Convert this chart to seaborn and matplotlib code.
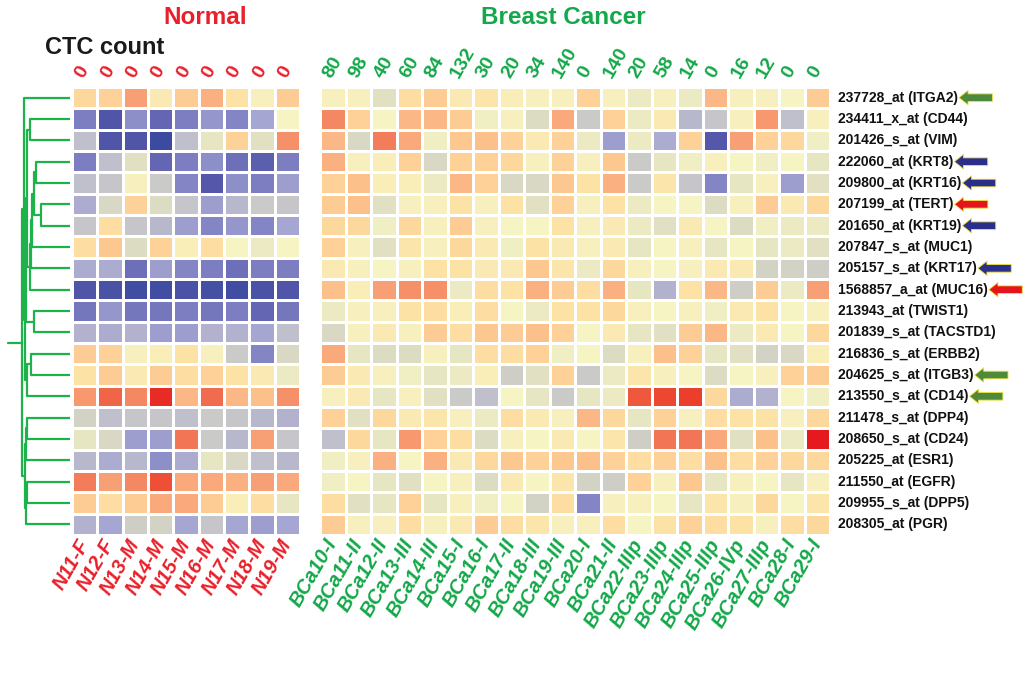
import matplotlib
matplotlib.use("Agg")
import matplotlib.pyplot as plt
import seaborn as sns
import pandas as pd
from matplotlib.colors import LinearSegmentedColormap

genes = [
    "237728_at (ITGA2)", "234411_x_at (CD44)", "201426_s_at (VIM)", "222060_at (KRT8)",
    "209800_at (KRT16)", "207199_at (TERT)", "201650_at (KRT19)", "207847_s_at (MUC1)",
    "205157_s_at (KRT17)", "1568857_a_at (MUC16)", "213943_at (TWIST1)", "201839_s_at (TACSTD1)",
    "216836_s_at (ERBB2)", "204625_s_at (ITGB3)", "213550_s_at (CD14)", "211478_s_at (DPP4)",
    "208650_s_at (CD24)", "205225_at (ESR1)", "211550_at (EGFR)", "209955_s_at (DPP5)",
    "208305_at (PGR)",
]
arrow_colors = [
    "#4f8a3c", None, None, "#2a2f8c", "#2a2f8c", "#e3151b", "#2a2f8c", None, "#2a2f8c",
    "#e3151b", None, None, None, "#4f8a3c", "#4f8a3c", None, None, None, None, None, None,
]

normal_samples = ["N11-F", "N12-F", "N13-M", "N14-M", "N15-M", "N16-M", "N17-M", "N18-M", "N19-M"]
cancer_samples = [
    "BCa10-I", "BCa11-II", "BCa12-II", "BCa13-III", "BCa14-III", "BCa15-I", "BCa16-I",
    "BCa17-II", "BCa18-III", "BCa19-III", "BCa20-I", "BCa21-II", "BCa22-IIIp", "BCa23-IIIp",
    "BCa24-IIIp", "BCa25-IIIp", "BCa26-IVp", "BCa27-IIIp", "BCa28-I", "BCa29-I",
]
normal_ctc = [0, 0, 0, 0, 0, 0, 0, 0, 0]
cancer_ctc = [80, 98, 40, 60, 84, 132, 30, 20, 34, 140, 0, 140, 20, 58, 14, 0, 16, 12, 0, 0]

# log-ratio style expression values, rows follow genes
normal_expr = [
    [0.7, 0.8, 1.5, 0.3, 0.9, 1.3, 0.5, 0.1, 0.9],
    [-2.0, -2.6, -1.8, -2.3, -2.0, -1.7, -1.9, -1.5, 0.0],
    [-1.1, -2.6, -2.6, -3.0, -1.1, -0.3, 0.8, -0.4, 1.7],
    [-2.0, -1.1, -0.4, -2.3, -2.0, -1.8, -2.2, -2.4, -2.0],
    [-1.1, -1.0, 0.1, -0.9, -1.9, -2.5, -1.8, -2.0, -1.6],
    [-1.4, -0.6, 0.8, -0.5, -1.0, -1.6, -1.2, -0.9, -1.0],
    [-1.0, 0.6, -1.0, -1.2, -1.6, -1.9, -1.7, -1.9, -1.5],
    [0.6, 1.0, -0.5, 0.8, 0.2, 0.6, 0.0, -0.2, 0.0],
    [-1.4, -1.4, -2.2, -1.6, -1.9, -2.0, -2.2, -2.0, -2.0],
    [-2.6, -2.7, -2.9, -2.9, -2.7, -2.8, -2.9, -2.7, -2.6],
    [-2.1, -1.7, -2.1, -2.1, -2.0, -2.1, -2.0, -2.3, -2.1],
    [-1.3, -1.4, -1.3, -1.6, -1.6, -1.3, -1.3, -1.5, -1.1],
    [0.9, 0.8, 0.1, 0.2, 0.5, 0.1, -0.9, -1.9, -0.6],
    [0.5, 0.9, 0.3, 0.9, 0.6, 0.8, 0.5, 0.3, -0.2],
    [1.6, 2.2, 1.8, 2.8, 1.2, 2.1, 1.2, 1.1, 1.7],
    [-0.7, -1.1, -1.0, -1.0, -1.1, -0.9, -1.0, -1.2, -1.3],
    [-0.3, -0.6, -1.6, -1.6, 2.0, -0.9, -1.2, 1.5, -1.0],
    [-1.2, -1.4, -1.2, -1.8, -1.4, -0.3, -0.6, -1.1, -1.2],
    [1.9, 1.5, 1.8, 2.4, 1.4, 1.4, 1.3, 1.5, 1.4],
    [0.9, 0.6, 0.9, 1.4, 1.4, 0.9, 0.2, 0.6, -0.3],
    [-1.3, -1.5, -0.8, -0.7, -1.5, -1.0, -1.5, -1.6, -1.5],
]
cancer_expr = [
    [0.1, 0.1, -0.4, 0.6, 0.9, 0.3, 0.4, 0.2, 0.1, 0.1, 0.8, 0.1, -0.2, 0.1, -0.2, 1.2, 0.1, 0.1, 0.0, 0.9],
    [1.8, 0.8, 0.0, 1.2, 1.2, 0.9, -0.1, 0.1, -0.5, 1.4, -0.9, 0.8, -0.2, 0.3, -1.2, -1.0, 0.1, 1.6, -1.1, 0.1],
    [1.2, -0.6, 1.9, 1.4, -0.1, 1.0, 1.1, 0.8, 0.3, 0.8, -0.2, -1.6, -0.2, -1.4, 0.8, -2.5, 1.5, 0.8, 0.7, -0.1],
    [1.3, 0.1, 0.2, 0.8, -0.6, 0.8, 0.8, 0.7, 0.1, 0.8, 0.1, 1.0, -0.9, -0.3, -0.1, 0.1, 0.0, -0.1, 0.0, -0.3],
    [0.8, 1.1, 0.2, 0.2, -0.2, 1.2, 0.8, -0.6, -0.6, 1.0, 0.5, 1.3, -0.9, 0.4, -1.0, -1.9, -0.3, 0.1, -1.6, -0.4],
    [0.9, 1.1, -0.4, 0.1, 0.1, 0.5, 0.1, 0.5, -0.4, 0.8, 0.1, 0.5, -0.2, 0.0, 0.0, -0.5, 0.1, 0.9, 0.3, 0.7],
    [0.7, 0.7, -0.1, 0.7, 0.1, 0.9, 0.1, 0.0, 0.0, 0.5, 0.1, 0.3, -0.2, -0.4, 0.3, 0.0, -0.5, -0.1, -0.2, -0.2],
    [0.8, 0.1, -0.4, 0.4, 0.1, 0.7, 0.3, -0.1, 0.5, 0.3, 0.1, 0.3, -0.3, 0.0, 0.1, -0.3, 0.0, -0.3, -0.2, -0.4],
    [0.3, 0.1, 0.0, 0.1, 0.5, 0.5, 0.3, 0.3, 1.0, 0.4, -0.2, 0.7, 0.1, 0.0, 0.1, 0.3, 0.3, -0.7, -0.7, -0.8],
    [1.1, 0.2, 1.5, 1.7, 1.7, -0.2, 0.6, 0.5, 1.3, 0.9, 0.6, 1.3, -0.3, -1.3, 0.5, 1.2, -0.8, 0.9, -0.2, 1.5],
    [-0.2, 0.1, 0.1, 0.5, 0.6, 0.2, 0.6, 0.0, -0.2, 0.5, 0.5, 0.7, 0.1, 0.0, 0.1, -0.1, 0.3, 0.5, 0.0, 0.1],
    [-0.6, 0.1, 0.3, 0.1, 0.9, 0.6, 1.0, 0.9, 1.1, 0.8, 0.0, 0.3, -0.3, -0.4, 0.9, 1.2, -0.2, 0.3, 0.0, 0.7],
    [1.4, -0.3, -0.5, -0.5, 0.1, -0.3, 0.6, 0.6, 0.8, -0.1, 0.0, -0.5, 0.1, 1.1, 0.8, -0.3, -0.4, -0.7, -0.6, 0.2],
    [0.9, 0.3, 0.1, -0.1, -0.3, -0.2, 0.2, -0.8, -0.4, 0.8, -0.9, -0.2, 0.4, 0.1, 0.0, -0.5, 0.0, 0.1, 0.8, 0.9],
    [0.1, 0.3, -0.3, 0.1, -0.4, -0.9, -1.1, 0.0, -0.3, -0.9, -0.3, -0.2, 2.3, 2.5, 2.6, 0.7, -1.4, -1.3, 0.0, -0.1],
    [0.8, -0.4, 0.7, 0.3, 0.4, 0.1, -0.2, 0.6, 0.3, 0.1, 1.2, 0.7, -0.3, 0.8, 0.1, 0.6, 0.5, 0.5, 0.1, 0.7],
    [-1.1, 0.7, -0.3, 1.6, 0.8, 0.6, -0.5, 0.1, 0.0, 0.3, 0.0, 0.4, -0.8, 2.0, 2.0, 1.4, -0.4, 1.1, -0.2, 3.0],
    [-0.1, 0.1, 1.3, 0.0, 1.3, 0.3, 0.7, 1.0, 0.8, 1.0, 1.1, 0.8, 0.6, 0.8, 0.6, 1.1, 0.6, 0.8, 0.7, 0.7],
    [-0.1, 0.0, -0.3, -0.4, 0.0, 0.1, -0.5, 0.3, 0.0, 0.4, -0.7, -0.8, 0.8, 0.1, 1.0, -0.3, 0.1, 0.0, -0.3, 0.1],
    [0.6, -0.4, -0.3, 0.8, -0.3, 0.1, -0.1, 0.0, -0.7, 0.6, -1.9, 0.1, 0.1, 0.0, -0.3, 0.4, 0.1, 0.7, 0.0, 0.4],
    [0.9, 0.1, 0.1, 0.6, 0.1, 0.3, 0.9, 0.6, 0.4, 0.1, 0.1, 0.6, 0.0, 0.5, 0.8, 0.6, 0.5, 0.1, 0.6, 0.7],
]

# gene dendrogram, leaves 0..20, new nodes numbered from 21 on
merge_left = [1, 5, 3, 23, 24, 25, 26, 10, 12, 29, 15, 31, 18, 33, 32, 21, 36, 37, 0, 39]
merge_right = [2, 6, 4, 22, 7, 8, 9, 11, 13, 14, 16, 17, 19, 20, 34, 27, 28, 30, 38, 35]
merge_height = [40, 29, 34, 36, 38, 39, 40, 36, 39, 43, 43, 44, 43, 44, 45, 43, 44, 45, 46, 48]

RED = "#e8202a"
GREEN = "#14a84a"
DENDRO = "#1db24a"

sns.set_style("white")
plt.rcParams["font.family"] = ["Liberation Sans", "DejaVu Sans"]

cmap = LinearSegmentedColormap.from_list("expr", [
    (0.0, "#3c4aa0"), (1 / 12, "#5558aa"), (2 / 12, "#7d7fc2"), (3 / 12, "#a6a6d2"),
    (4 / 12, "#c6c6ca"), (5 / 12, "#dcdcc2"), (6 / 12, "#f6f4c4"), (7 / 12, "#fde2a6"),
    (8 / 12, "#fdc790"), (9 / 12, "#f8a276"), (10 / 12, "#f27656"), (11 / 12, "#ec4830"),
    (1.0, "#e61a1e"),
])

normal_df = pd.DataFrame(normal_expr, index=genes, columns=normal_samples)
cancer_df = pd.DataFrame(cancer_expr, index=genes, columns=cancer_samples)

W, H = 1024, 683
fig = plt.figure(figsize=(W / 100, H / 100), dpi=100)
top, bottom = 87, 535
ax_d = fig.add_axes([0, (H - bottom) / H, 70 / W, (bottom - top) / H])
ax_n = fig.add_axes([72 / W, (H - bottom) / H, 228 / W, (bottom - top) / H])
ax_c = fig.add_axes([320 / W, (H - bottom) / H, 510 / W, (bottom - top) / H])

hm_kw = dict(cmap=cmap, vmin=-3, vmax=3, cbar=False, linewidths=1.8,
             linecolor="white", yticklabels=False)
sns.heatmap(normal_df, ax=ax_n, xticklabels=normal_samples, **hm_kw)
sns.heatmap(cancer_df, ax=ax_c, xticklabels=cancer_samples, **hm_kw)

for ax, color, counts in [(ax_n, RED, normal_ctc), (ax_c, GREEN, cancer_ctc)]:
    ax.tick_params(axis="x", length=0, pad=4)
    ax.set_xticklabels(ax.get_xticklabels(), rotation=60, ha="right", va="center",
                       rotation_mode="anchor", color=color, fontsize=14.5,
                       fontweight="bold", fontstyle="italic")
    ax.set_xlabel("")
    ax.set_ylabel("")
    for j, c in enumerate(counts):
        ax.text(j + 0.3, -0.5, str(c), rotation=60, rotation_mode="anchor",
                ha="left", va="center", color=color, fontsize=14,
                fontweight="bold", clip_on=False)

# gene labels with marker arrows
for i, (g, ac) in enumerate(zip(genes, arrow_colors)):
    t = ax_c.text(len(cancer_samples) + 0.3, i + 0.5, g, ha="left", va="center",
                  fontsize=10, fontweight="bold", color="#111111", clip_on=False)
    if ac:
        ax_c.annotate("", xy=(1.0, 0.5), xycoords=t, xytext=(25, 0),
                      textcoords="offset points",
                      arrowprops=dict(arrowstyle="simple,head_length=0.5,head_width=0.8,tail_width=0.42",
                                      fc=ac, ec="#efe23a", lw=0.6, mutation_scale=13,
                                      shrinkA=0, shrinkB=1))

# dendrogram
n = len(genes)
ypos = {i: i + 0.5 for i in range(n)}
hpos = {i: 0.0 for i in range(n)}
for k, (a, b, h) in enumerate(zip(merge_left, merge_right, merge_height)):
    for c in (a, b):
        ax_d.plot([hpos[c], h], [ypos[c], ypos[c]], color=DENDRO, lw=1.6,
                  solid_capstyle="butt")
    ax_d.plot([h, h], [ypos[a], ypos[b]], color=DENDRO, lw=1.6)
    ypos[n + k] = (ypos[a] + ypos[b]) / 2
    hpos[n + k] = h
root = n + len(merge_left) - 1
ax_d.plot([hpos[root], 62], [ypos[root], ypos[root]], color=DENDRO, lw=1.6)
ax_d.set_xlim(70, 0)
ax_d.set_ylim(n, 0)
ax_d.axis("off")

fig.text(205 / W, 1 - 18 / H, "Normal", color=RED, fontsize=17.5, fontweight="bold",
         ha="center", va="center")
fig.text(563 / W, 1 - 18 / H, "Breast Cancer", color=GREEN, fontsize=17.5,
         fontweight="bold", ha="center", va="center")
fig.text(45 / W, 1 - 48 / H, "CTC count", color="#1a1a1a", fontsize=17,
         fontweight="bold", ha="left", va="center")

fig.savefig("out.png", dpi=100, facecolor="white")
